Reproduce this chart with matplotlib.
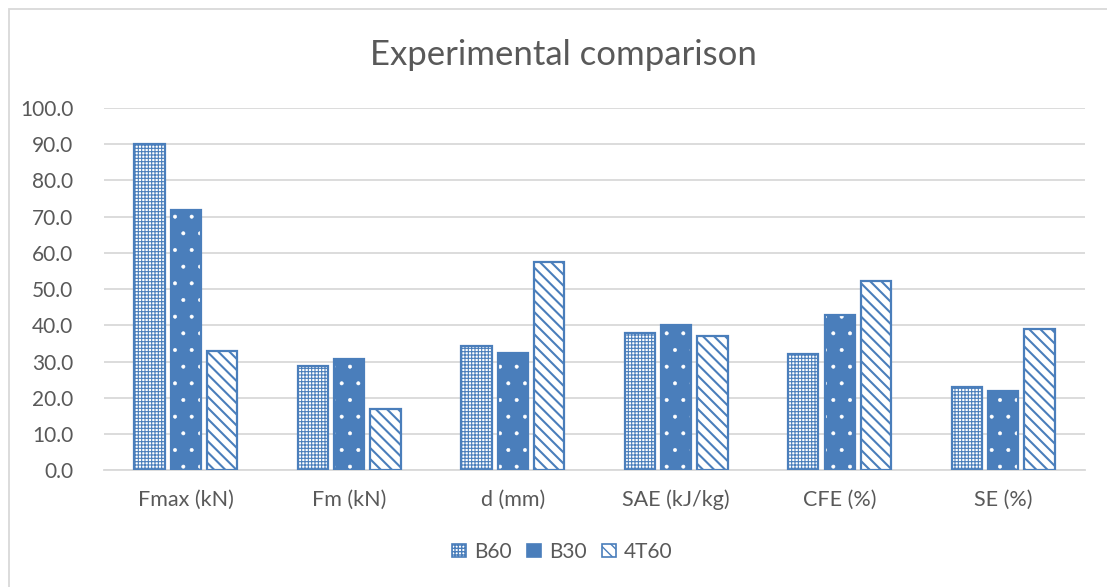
import matplotlib
matplotlib.use("Agg")
import matplotlib.pyplot as plt
import numpy as np
from matplotlib.patches import Rectangle, Patch

plt.rcParams['font.family'] = ['Lato', 'DejaVu Sans']

categories = ["Fmax (kN)", "Fm (kN)", "d (mm)", "SAE (kJ/kg)", "CFE (%)", "SE (%)"]
series_names = ["B60", "B30", "4T60"]
b60 = [90.0, 28.8, 34.4, 38.0, 32.1, 22.9]
b30 = [71.8, 30.7, 32.4, 40.2, 42.9, 21.8]
t60 = [32.9, 17.0, 57.6, 37.0, 52.3, 39.0]
y_ticks = [0, 10, 20, 30, 40, 50, 60, 70, 80, 90, 100]

blue = "#4a7ebb"
text_gray = "#595959"
grid_gray = "#d9d9d9"

fig = plt.figure(figsize=(11.07, 5.87), dpi=100)
ax = fig.add_axes([0.094, 0.199, 0.886, 0.617])

x = np.arange(len(categories))
w = 0.185
off = 0.222

# B60: fine checkerboard texture
with plt.rc_context({'hatch.linewidth': 0.8}):
    ax.bar(x - off, b60, w, facecolor="white", edgecolor=blue, hatch="+++++", linewidth=0, zorder=3)
# B30: solid with sparse small white dots
with plt.rc_context({'hatch.linewidth': 0.4}):
    ax.bar(x, b30, w, facecolor=blue, edgecolor="white", hatch=".", linewidth=0, zorder=3)
# 4T60: wide downward diagonal
with plt.rc_context({'hatch.linewidth': 1.5}):
    ax.bar(x + off, t60, w, facecolor="white", edgecolor=blue, hatch="\\\\\\", linewidth=0, zorder=3)
for offset, vals in zip([-off, 0, off], [b60, b30, t60]):
    ax.bar(x + offset, vals, w, facecolor="none", edgecolor=blue, linewidth=1.6, zorder=4)

ax.set_xlim(-0.5, len(categories) - 0.5)
ax.set_ylim(0, 100)
ax.set_yticks(y_ticks)
ax.set_yticklabels([f"{v:.1f}" for v in y_ticks], color=text_gray, fontsize=15)
ax.set_xticks(x)
ax.set_xticklabels(categories, color=text_gray, fontsize=15.5)
ax.tick_params(axis="y", length=0, pad=22)
ax.tick_params(axis="x", length=0, pad=14)
ax.grid(axis="y", color=grid_gray, linewidth=1.3, zorder=0)
for s in ["top", "right", "left"]:
    ax.spines[s].set_visible(False)
ax.spines["bottom"].set_color(grid_gray)
ax.spines["bottom"].set_linewidth(1.3)

fig.text(0.509, 0.907, "Experimental comparison", ha="center", va="center",
         fontsize=25, color=text_gray)

with plt.rc_context({'hatch.linewidth': 0.8}):
    handles = [
        Patch(facecolor="white", edgecolor=blue, hatch="+++++", linewidth=1.2),
        Patch(facecolor=blue, edgecolor=blue, linewidth=1.2),
        Patch(facecolor="white", edgecolor=blue, hatch="\\\\\\", linewidth=1.2),
    ]
fig.legend(handles, series_names, loc="center", bbox_to_anchor=(0.508, 0.06), ncol=3,
           frameon=False, fontsize=15, labelcolor=text_gray, handlelength=0.65,
           handleheight=0.65, handletextpad=0.4, columnspacing=0.75)

fig.patches.append(Rectangle((0.0085, -0.1), 1.5, 1.085, transform=fig.transFigure,
                             fill=False, edgecolor="#d9d9d9", linewidth=1.3))

fig.savefig("out.png", dpi=100)
